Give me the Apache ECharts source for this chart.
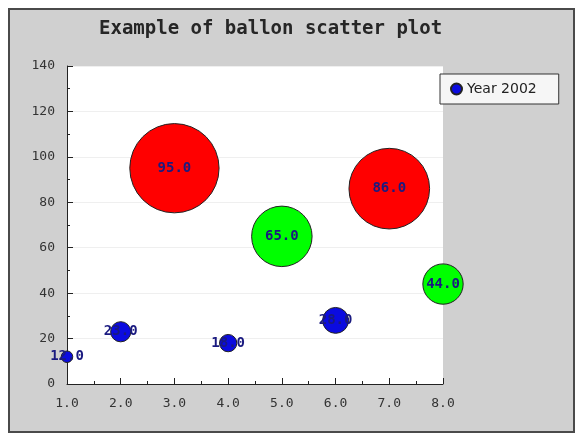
<!DOCTYPE html>
<html>
<head>
<meta charset="utf-8">
<script src="https://cdn.jsdelivr.net/npm/echarts@6/dist/echarts.min.js"></script>
<style>html,body{margin:0;padding:0;background:#fff}#c{width:576px;height:435px}</style>
</head>
<body>
<div id="c"></div>
<script>
// ---- data ----
var titleText = 'Example of ballon scatter plot';
var seriesName = 'Year 2002';
var xValues = [1, 2, 3, 4, 5, 6, 7, 8];
var yValues = [12, 23, 95, 18, 65, 28, 86, 44];
var xMin = 1, xMax = 8, xStep = 1;
var yMin = 0, yMax = 140, yStep = 20;

// ---- styling / encoding rules ----
var SCALE = 1.44;
function balloonRadius(v) { return Math.floor(v / 3) * SCALE; }
function balloonColor(v) { return v < 30 ? '#0b0be0' : (v < 70 ? '#00ff00' : '#ff0000'); }

var points = xValues.map(function (x, i) { return [x, yValues[i]]; });

var chart = echarts.init(document.getElementById('c'), null, { renderer: 'canvas' });
chart.setOption({
  animation: false,
  backgroundColor: '#ffffff',
  graphic: [{
    type: 'rect', z: -100, silent: true,
    shape: { x: 9, y: 9, width: 565, height: 423 },
    style: { fill: '#d0d0d0', stroke: '#4a4a4a', lineWidth: 2 }
  }],
  title: {
    text: titleText,
    left: 94, top: 15,
    textStyle: { fontFamily: 'DejaVu Sans Mono', fontSize: 19, fontWeight: 'bold', color: '#262626' }
  },
  legend: {
    data: [{ name: seriesName, icon: 'circle', itemStyle: { color: '#0b0be0' } }],
    left: 440, top: 74,
    orient: 'vertical',
    itemWidth: 11, itemHeight: 11, itemGap: 8,
    padding: [8, 22, 8, 10],
    backgroundColor: '#f6f6f6', borderColor: '#333', borderWidth: 1,
    textStyle: { fontFamily: 'DejaVu Sans', fontSize: 14, color: '#222' }
  },
  grid: {
    left: 67, top: 66, right: 133, bottom: 51,
    show: true, backgroundColor: '#ffffff', borderWidth: 0
  },
  xAxis: {
    type: 'value', min: xMin, max: xMax, interval: xStep,
    axisLine: { show: true, lineStyle: { color: '#222', width: 1 } },
    axisTick: { show: true, inside: true, length: 6, lineStyle: { color: '#222' } },
    minorTick: { show: true, splitNumber: 2, length: 3, lineStyle: { color: '#222' } },
    splitLine: { show: false },
    axisLabel: {
      formatter: function (v) { return v.toFixed(1); },
      margin: 13, fontFamily: 'DejaVu Sans Mono', fontSize: 13, color: '#333'
    }
  },
  yAxis: {
    type: 'value', min: yMin, max: yMax, interval: yStep,
    axisLine: { show: true, lineStyle: { color: '#222', width: 1 } },
    axisTick: { show: true, inside: true, length: 6, lineStyle: { color: '#222' } },
    minorTick: { show: true, splitNumber: 2, length: 3, lineStyle: { color: '#222' } },
    splitLine: { show: true, lineStyle: { color: '#efefef', width: 1 } },
    axisLabel: { margin: 12, fontFamily: 'DejaVu Sans Mono', fontSize: 13, color: '#333' }
  },
  series: [{
    name: seriesName,
    type: 'scatter',
    data: points,
    symbol: 'circle',
    symbolSize: function (val) { return 2 * balloonRadius(val[1]); },
    itemStyle: {
      color: function (p) { return balloonColor(p.value[1]); },
      borderColor: '#222', borderWidth: 1, opacity: 1
    },
    label: {
      show: true, position: 'inside',
      formatter: function (p) { return p.value[1].toFixed(1); },
      fontFamily: 'DejaVu Sans Mono', fontSize: 14, fontWeight: 'bold', color: '#1a1a80'
    },
    emphasis: { disabled: true }
  }]
});
</script>
</body>
</html>
